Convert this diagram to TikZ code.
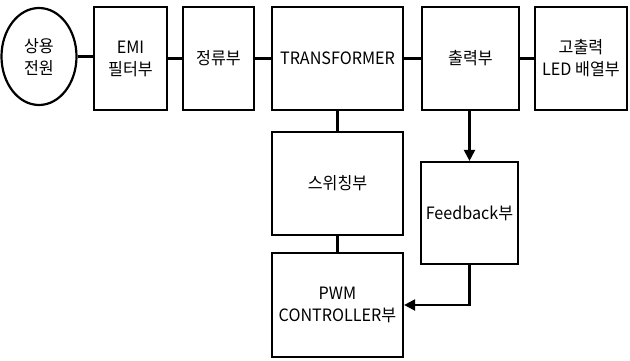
\documentclass[tikz,border=0pt]{standalone}
\usepackage{fontspec}
\setmainfont[FakeStretch=0.95]{Noto Sans CJK KR}
\usetikzlibrary{arrows.meta,shapes.geometric}
\begin{document}
\begin{tikzpicture}[x=1pt,y=-1pt,
  blk/.style={draw,line width=2.2pt,inner sep=0pt,align=center,font=\fontsize{17}{22}\selectfont},
  link/.style={line width=2.6pt},
  arr/.style={line width=2.2pt,-{Triangle[length=11pt,width=11pt]}}]
\useasboundingbox (0,0) rectangle (630,361);
\node[blk,ellipse,minimum width=75pt,minimum height=97pt] (src) at (39,56.5) {상용\\전원};
\node[blk,minimum width=73pt,minimum height=103pt] (emi) at (130.5,58.5) {EMI\\필터부};
\node[blk,minimum width=71pt,minimum height=103pt] (rect) at (218.5,58.5) {정류부};
\node[blk,minimum width=131pt,minimum height=103pt] (tr) at (337.5,58.5) {TRANSFORMER};
\node[blk,minimum width=97pt,minimum height=103pt] (out) at (470.5,58.5) {출력부};
\node[blk,minimum width=92pt,minimum height=103pt] (led) at (581,58.5) {고출력\\LED 배열부};
\node[blk,minimum width=131pt,minimum height=103pt] (sw) at (337.5,183.5) {스위칭부};
\node[blk,minimum width=97pt,minimum height=102pt] (fb) at (469.5,213) {Feedback부};
\node[blk,minimum width=131pt,minimum height=104pt] (pwm) at (337.5,305) {PWM\\CONTROLLER부};
\draw[link] (src.east) -- (src.east -| emi.west);
\draw[link] (emi) -- (rect);
\draw[link] (rect) -- (tr);
\draw[link] (tr) -- (out);
\draw[link] (out) -- (led);
\draw[link] (tr) -- (sw);
\draw[link] (sw) -- (pwm);
\draw[arr] (out.south -| fb.north) -- (fb.north);
\draw[arr] (fb.south) |- (pwm.east);
\end{tikzpicture}
\end{document}
